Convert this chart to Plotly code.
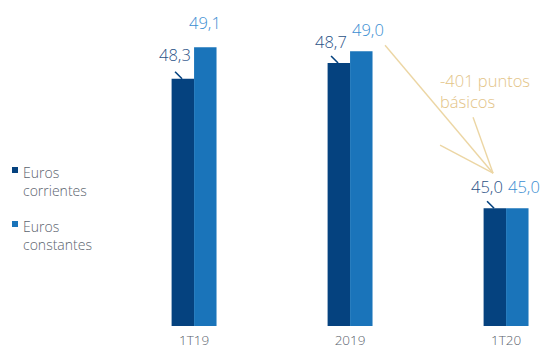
import plotly.graph_objects as go

# Data
periods = ["1T19", "2019", "1T20"]
euros_corrientes = [48.3, 48.7, 45.0]
euros_constantes = [49.1, 49.0, 45.0]
series_labels = ["Euros<br>corrientes", "Euros<br>constantes"]
change_note = "-401 puntos<br>básicos"

# Style
DARK = "#05427f"
LIGHT = "#1a74ba"
DARK_TXT = "#2b5287"
LIGHT_TXT = "#3b8ed2"
GOLD = "#ecd6a4"
GOLD_TXT = "#e3c488"
GREY = "#5b636e"
FONT = "Open Sans"
WEIGHT = 300

W, H = 546, 347
M = dict(l=100, r=0, t=10, b=21)
Y_RANGE = [42, 50.05]


def px_to_paper(px, py):
    """Convert page pixel position to paper coordinates."""
    pw = W - M["l"] - M["r"]
    ph = H - M["t"] - M["b"]
    return (px - M["l"]) / pw, (H - M["b"] - py) / ph


def fmt(v):
    return f"{v:.1f}".replace(".", ",")


fig = go.Figure()
fig.add_bar(x=periods, y=euros_corrientes, name="Euros corrientes",
            marker=dict(color=DARK, line=dict(width=0)), showlegend=False)
fig.add_bar(x=periods, y=euros_constantes, name="Euros constantes",
            marker=dict(color=LIGHT, line=dict(width=0)), showlegend=False)

annotations = []
shapes = []

# Value labels with small leader ticks on the darker bars
for i, p in enumerate(periods):
    vc, vk = euros_corrientes[i], euros_constantes[i]
    same_level = abs(vc - vk) < 0.3
    annotations.append(dict(
        x=i, y=vc, xref="x", yref="y", text=fmt(vc), showarrow=False,
        xanchor="center", yanchor="bottom", xshift=-19,
        yshift=8 if same_level else 11,
        font=dict(family=FONT, size=16.5, color=DARK_TXT, weight=WEIGHT)))
    annotations.append(dict(
        x=i, y=vk, xref="x", yref="y", text=fmt(vk), showarrow=False,
        xanchor="center", yanchor="bottom", xshift=18 if same_level else 11,
        yshift=8 if same_level else 11,
        font=dict(family=FONT, size=16.5, color=LIGHT_TXT, weight=WEIGHT)))
    shapes.append(dict(
        type="line", xref="x", yref="y",
        xsizemode="pixel", ysizemode="pixel", xanchor=i, yanchor=vc,
        x0=-19, x1=-12, y0=7, y1=0,
        line=dict(color=DARK, width=1.6)))

# Converging gold lines pointing down to the last period
last = len(periods) - 1
tip = (-13, 35)
for tail in [(-121, 163), (-33, 91), (-66, 63)]:
    shapes.append(dict(
        type="line", xref="x", yref="y",
        xsizemode="pixel", ysizemode="pixel",
        xanchor=last, yanchor=euros_constantes[last],
        x0=tail[0], y0=tail[1], x1=tip[0], y1=tip[1],
        line=dict(color=GOLD, width=1.4)))

annotations.append(dict(
    x=last, y=euros_constantes[last], xref="x", yref="y",
    text=change_note, showarrow=False, align="left",
    xanchor="left", yanchor="top", xshift=-68, yshift=141,
    font=dict(family=FONT, size=16.5, color=GOLD_TXT, weight=WEIGHT)))

# Legend drawn as squares and text at the left
legend_rows = [(167, 161), (221, 215)]
for (sq_y, txt_y), color, label in zip(legend_rows, [DARK, LIGHT], series_labels):
    x0, y0 = px_to_paper(12, sq_y)
    x1, y1 = px_to_paper(18, sq_y + 6)
    shapes.append(dict(type="rect", xref="paper", yref="paper",
                       x0=x0, x1=x1, y0=y1, y1=y0,
                       fillcolor=color, line=dict(width=0)))
    tx, ty = px_to_paper(21, txt_y)
    annotations.append(dict(
        x=tx, y=ty, xref="paper", yref="paper", text=label, showarrow=False,
        align="left", xanchor="left", yanchor="top",
        font=dict(family=FONT, size=14, color=GREY, weight=WEIGHT)))

fig.update_layout(
    width=W, height=H, margin=M,
    paper_bgcolor="white", plot_bgcolor="white",
    barmode="group", bargap=0.712, bargroupgap=0,
    font=dict(family=FONT, color=GREY, weight=WEIGHT),
    xaxis=dict(type="category", range=[-0.603, 2.256], showgrid=False,
               zeroline=False, showline=False, ticks="", automargin=False,
               ticklabelstandoff=4,
               tickfont=dict(family=FONT, size=13.5, color=GREY, weight=WEIGHT)),
    yaxis=dict(range=Y_RANGE, visible=False),
    annotations=annotations, shapes=shapes,
    showlegend=False,
)

fig.write_html("out.html")
